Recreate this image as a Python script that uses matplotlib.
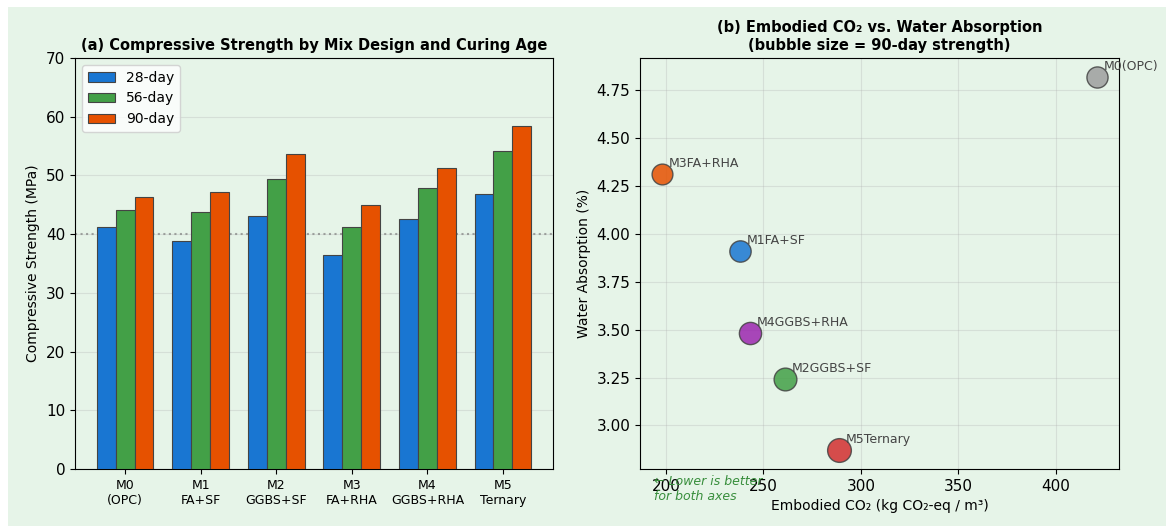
import matplotlib.pyplot as plt
import numpy as np
from matplotlib.patches import Rectangle

# data
mixes = ['M0\n(OPC)', 'M1\nFA+SF', 'M2\nGGBS+SF', 'M3\nFA+RHA', 'M4\nGGBS+RHA', 'M5\nTernary']
str_28 = [41.2, 38.8, 43.1, 36.5, 42.6, 46.8]
str_56 = [44.1, 43.8, 49.4, 41.2, 47.9, 54.2]
str_90 = [46.3, 47.2, 53.7, 44.9, 51.3, 58.4]
co2 = [421.2, 237.9, 261.0, 197.9, 243.1, 288.8]
absorption = [4.82, 3.91, 3.24, 4.31, 3.48, 2.87]
target = 40

bar_colors = ['#1976D2', '#43A047', '#E65100']
mix_colors = ['#9E9E9E', '#1976D2', '#43A047', '#E65100', '#9C27B0', '#D32F2F']
bg = '#E6F4E8'

fig = plt.figure(figsize=(11.66, 5.26), dpi=100, facecolor=bg)
fig.patches.append(Rectangle((0, 1 - 7/526), 1, 7/526, transform=fig.transFigure,
                             facecolor='white', edgecolor='none', zorder=-1))
fig.patches.append(Rectangle((0, 0), 8/1166, 1, transform=fig.transFigure,
                             facecolor='white', edgecolor='none', zorder=-1))

ax1 = fig.add_axes([75/1166, 57/526, 478/1166, 411/526], facecolor=bg)
ax2 = fig.add_axes([640/1166, 57/526, 479/1166, 411/526], facecolor=bg)

# (a) grouped bars
x = np.arange(len(mixes))
w = 0.25
for i, (vals, lab) in enumerate(zip([str_28, str_56, str_90], ['28-day', '56-day', '90-day'])):
    ax1.bar(x + (i - 1) * w, vals, w, color=bar_colors[i], edgecolor='#444444',
            linewidth=0.8, label=lab, zorder=3)
ax1.axhline(target, color='gray', linestyle=':', linewidth=1.5, alpha=0.7, zorder=2)
ax1.set_xticks(x)
ax1.set_xticklabels(mixes, fontsize=9)
ax1.set_ylim(0, 70)
ax1.tick_params(axis='y', labelsize=11)
ax1.set_ylabel('Compressive Strength (MPa)', fontsize=10)
ax1.set_title('(a) Compressive Strength by Mix Design and Curing Age', fontsize=10.5, fontweight='bold')
ax1.grid(axis='y', alpha=0.3, zorder=0)
ax1.legend(loc='upper left', fontsize=10)

# (b) bubble chart
names = [m.replace('\n', '') for m in mixes]
for i in range(len(mixes)):
    ax2.scatter(co2[i], absorption[i], s=str_90[i] * 5, color=mix_colors[i],
                alpha=0.85, edgecolor='#444444', linewidth=1, zorder=3)
    ax2.annotate(names[i], (co2[i], absorption[i]), xytext=(5, 5),
                 textcoords='offset points', fontsize=9, color='#444444')
ax2.set_xlabel('Embodied CO₂ (kg CO₂-eq / m³)', fontsize=10)
ax2.set_ylabel('Water Absorption (%)', fontsize=10)
ax2.set_title('(b) Embodied CO₂ vs. Water Absorption\n(bubble size = 90-day strength)',
              fontsize=10.5, fontweight='bold')
ax2.tick_params(labelsize=11)
ax2.grid(alpha=0.3, zorder=0)
ax2.text(0.03, -0.015, '← Lower is better\nfor both axes', transform=ax2.transAxes,
         fontsize=9, style='italic', color='#388E3C', va='top', ha='left')

fig.savefig('out.png', dpi=100, facecolor=bg)
